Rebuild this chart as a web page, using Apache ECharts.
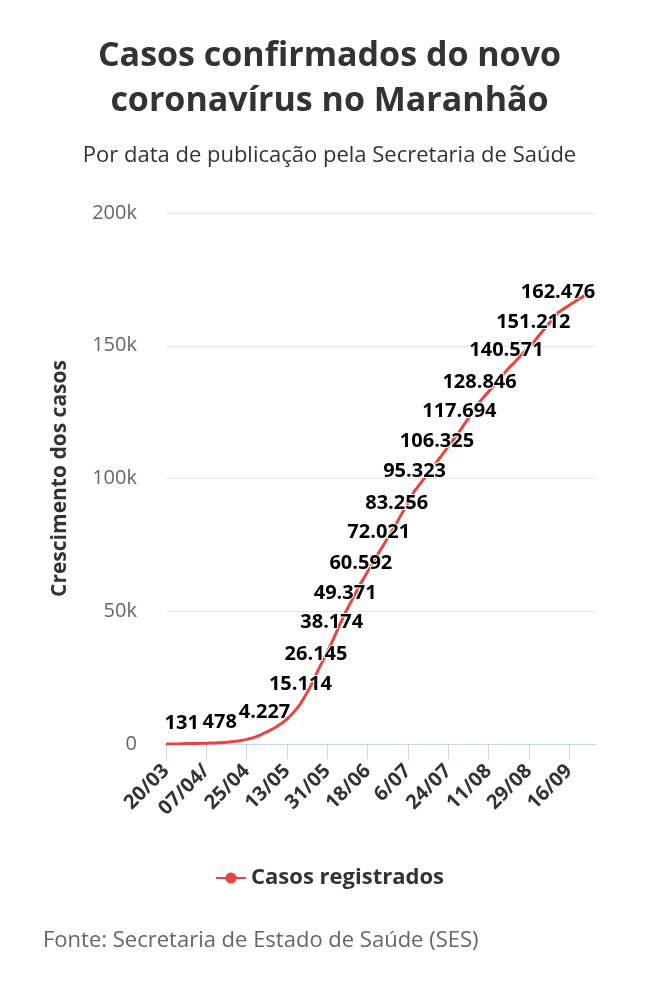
<!DOCTYPE html>
<html>
<head>
<meta charset="utf-8">
<script src="https://cdn.jsdelivr.net/npm/echarts@6/dist/echarts.min.js"></script>
<style>
html, body { margin: 0; padding: 0; background: #fff; }
#chart { width: 659px; height: 1000px; }
</style>
</head>
<body>
<div id="chart"></div>
<script>
// datas por mes (dd/mm)
var datasMar = ['20/03','21/03','22/03','23/03','24/03','25/03','26/03','27/03','28/03','29/03','30/03','31/03'];
var datasAbr = ['01/04','02/04','03/04','04/04','05/04','06/04','07/04/','08/04','09/04','10/04','11/04','12/04','13/04','14/04','15/04','16/04','17/04','18/04','19/04','20/04','21/04','22/04','23/04','24/04','25/04','26/04','27/04','28/04','29/04','30/04'];
var datasMai = ['01/05','02/05','03/05','04/05','05/05','06/05','07/05','08/05','09/05','10/05','11/05','12/05','13/05','14/05','15/05','16/05','17/05','18/05','19/05','20/05','21/05','22/05','23/05','24/05','25/05','26/05','27/05','28/05','29/05','30/05','31/05'];
var datasJun = ['01/06','02/06','03/06','04/06','05/06','06/06','07/06','08/06','09/06','10/06','11/06','12/06','13/06','14/06','15/06','16/06','17/06','18/06','19/06','20/06','21/06','22/06','23/06','24/06','25/06','26/06','27/06','28/06','29/06','30/06'];
var datasJul = ['01/07','02/07','03/07','04/07','05/07','6/07','07/07','08/07','09/07','10/07','11/07','12/07','13/07','14/07','15/07','16/07','17/07','18/07','19/07','20/07','21/07','22/07','23/07','24/07','25/07','26/07','27/07','28/07','29/07','30/07','31/07'];
var datasAgo = ['01/08','02/08','03/08','04/08','05/08','06/08','07/08','08/08','09/08','10/08','11/08','12/08','13/08','14/08','15/08','16/08','17/08','18/08','19/08','20/08','21/08','22/08','23/08','24/08','25/08','26/08','27/08','28/08','29/08','30/08','31/08'];
var datasSet = ['01/09','02/09','03/09','04/09','05/09','06/09','07/09','08/09','09/09','10/09','11/09','12/09','13/09','14/09','15/09','16/09','17/09','18/09','19/09','20/09','21/09','22/09','23/09'];

// casos acumulados por mes
var casosMar = [1, 2, 4, 8, 16, 30, 74, 131, 142, 155, 166, 180];
var casosAbr = [196, 210, 228, 246, 262, 284, 305, 330, 358, 384, 412, 445, 478, 530, 590, 655, 735, 820, 912, 1010, 1130, 1255, 1400, 1560, 1740, 1950, 2170, 2420, 2700, 3010];
var casosMai = [3350, 3770, 4227, 4580, 4960, 5380, 5830, 6310, 6830, 7400, 8010, 8680, 9400, 10180, 11020, 11940, 12930, 14000, 15114, 16500, 17900, 19400, 20900, 22500, 24300, 26145, 27900, 29600, 31300, 33000, 34700];
var casosJun = [36400, 38174, 40000, 41900, 43800, 45700, 47500, 49371, 51000, 52600, 54200, 55800, 57400, 59000, 60592, 62000, 63500, 64900, 66300, 67700, 69200, 70600, 72021, 73400, 74800, 76200, 77600, 79000, 80400, 81800];
var casosJul = [83256, 84800, 86300, 87800, 89300, 90800, 92300, 93800, 95323, 96400, 97500, 98600, 99700, 100800, 101900, 103000, 104100, 105200, 106325, 107500, 108600, 109700, 110900, 112000, 113200, 114300, 115400, 116500, 117694, 118900, 120200];
var casosAgo = [121400, 122600, 123900, 125100, 126400, 127600, 128846, 129800, 130800, 131800, 132700, 133700, 134700, 135600, 136600, 137600, 138600, 139600, 140571, 141500, 142400, 143200, 144100, 145000, 145900, 146800, 147700, 148600, 149500, 150400, 151212];
var casosSet = [152200, 153300, 154300, 155300, 156400, 157400, 158400, 159400, 160400, 161400, 162476, 163000, 163600, 164100, 164700, 165200, 165800, 166300, 166900, 167400, 167900, 168400, 168900];

// pontos com rotulo visivel
var diasRotulo = [7, 24, 44, 60, 67, 74, 80, 87, 95, 103, 111, 121, 131, 140, 152, 164, 175];

var yTicks = ['0', '50k', '100k', '150k', '200k'];

var categorias = [].concat(datasMar, datasAbr, datasMai, datasJun, datasJul, datasAgo, datasSet);
var casos = [].concat(casosMar, casosAbr, casosMai, casosJun, casosJul, casosAgo, casosSet);

function fmt(v) {
	return String(v).replace(/\B(?=(\d{3})+(?!\d))/g, '.');
}

var serieData = casos.map(function (v, i) {
	var item = { value: v };
	if (diasRotulo.indexOf(i) >= 0) {
		item.label = { show: true };
	}
	return item;
});

var vermelho = '#e8453c';
var font = '"Open Sans", sans-serif';

var option = {
	backgroundColor: '#fff',
	textStyle: { fontFamily: font },
	title: [{
		text: 'Casos confirmados do novo\ncoronavírus no Maranhão',
		left: 'center',
		top: 29,
		textStyle: { fontSize: 34, fontWeight: 'bold', color: '#333', lineHeight: 45, fontFamily: font }
	}, {
		text: 'Por data de publicação pela Secretaria de Saúde',
		left: 'center',
		top: 140,
		textStyle: { fontSize: 22, fontWeight: 'normal', color: '#333', fontFamily: font }
	}],
	graphic: [{
		type: 'text',
		left: 43,
		top: 930,
		style: { text: 'Fonte: Secretaria de Estado de Saúde (SES)', fill: '#666', font: '22px "Open Sans", sans-serif' }
	}],
	legend: {
		bottom: 106,
		left: 'center',
		itemWidth: 30,
		itemHeight: 14,
		itemGap: 10,
		textStyle: { fontSize: 22, fontWeight: 'bold', color: '#333', fontFamily: font },
		itemStyle: { color: vermelho },
		data: ['Casos registrados']
	},
	grid: { left: 166, right: 63, top: 213, height: 531, containLabel: false },
	xAxis: {
		type: 'category',
		data: categorias,
		boundaryGap: false,
		max: 192,
		axisLine: { lineStyle: { color: '#ccd6eb', width: 1 } },
		axisTick: { interval: 17, length: 15, lineStyle: { color: '#ccd6eb' } },
		axisLabel: {
			interval: 17,
			rotate: 45,
			margin: 24,
			fontSize: 20,
			fontWeight: 'bold',
			color: '#333',
			fontFamily: font
		}
	},
	yAxis: {
		type: 'value',
		min: 0,
		max: 200000,
		interval: 50000,
		name: 'Crescimento dos casos',
		nameLocation: 'middle',
		nameGap: 95,
		nameTextStyle: { fontSize: 21, fontWeight: 'bold', color: '#333', fontFamily: font },
		axisLine: { show: false },
		axisTick: { show: false },
		splitLine: { lineStyle: { color: '#e6e6e6' } },
		axisLabel: {
			margin: 29,
			fontSize: 20,
			color: '#666',
			fontFamily: font,
			formatter: function (v) { return yTicks[v / 50000]; }
		}
	},
	series: [{
		name: 'Casos registrados',
		type: 'line',
		data: serieData,
		symbol: 'circle',
		symbolSize: 10,
		showSymbol: true,
		showAllSymbol: true,
		itemStyle: { color: 'rgba(0,0,0,0)' },
		lineStyle: { color: vermelho, width: 3 },
		label: {
			show: false,
			position: 'top',
			distance: 5,
			fontSize: 20,
			fontWeight: 'bold',
			color: '#000',
			fontFamily: font,
			textBorderColor: '#fff',
			textBorderWidth: 2,
			formatter: function (p) { return fmt(p.value); }
		},
		labelLayout: { hideOverlap: false },
		emphasis: { disabled: true },
		animation: false
	}]
};

var chart = echarts.init(document.getElementById('chart'));
chart.setOption(option);
</script>
</body>
</html>
